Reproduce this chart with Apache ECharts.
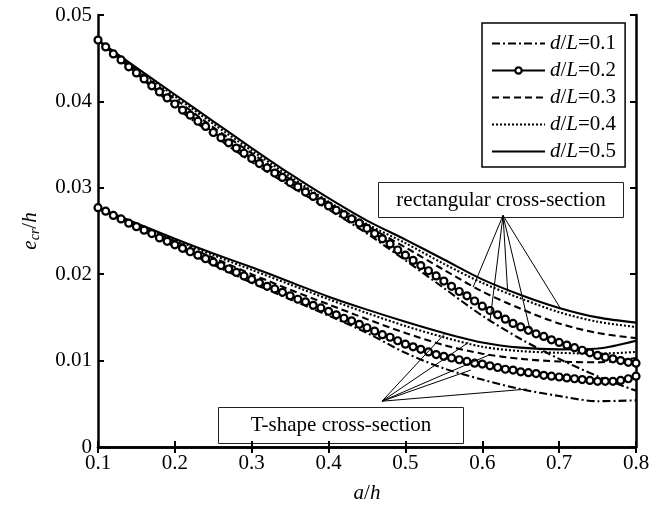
<!DOCTYPE html>
<html><head><meta charset="utf-8">
<script src="https://cdn.jsdelivr.net/npm/echarts@6/dist/echarts.min.js"></script>
<style>html,body{margin:0;padding:0;background:#fff}#c{width:663px;height:509px}</style>
</head><body><div id="c"></div>
<script>
// sampling positions (a/h)
const xCoarse = [0.10,0.15,0.20,0.25,0.30,0.35,0.40,0.45,0.50,0.55,0.60,0.65,0.70,0.75,0.80];
const xFine = [0.10,0.11,0.12,0.13,0.14,0.15,0.16,0.17,0.18,0.19,0.20,0.21,0.22,0.23,0.24,0.25,0.26,0.27,0.28,0.29,
  0.30,0.31,0.32,0.33,0.34,0.35,0.36,0.37,0.38,0.39,0.40,0.41,0.42,0.43,0.44,0.45,0.46,0.47,0.48,0.49,
  0.50,0.51,0.52,0.53,0.54,0.55,0.56,0.57,0.58,0.59,0.60,0.61,0.62,0.63,0.64,0.65,0.66,0.67,0.68,0.69,
  0.70,0.71,0.72,0.73,0.74,0.75,0.76,0.77,0.78,0.79,0.80];

// rectangular cross-section, e_cr/h
const rect01 = [0.0471,0.0432,0.0394,0.0361,0.0330,0.0302,0.0275,0.0247,0.0216,0.0184,0.0152,0.0125,0.0102,0.0082,0.0065];
const rect02 = [0.0471,0.0463,0.0455,0.0448,0.0440,0.0433,0.0426,0.0418,0.0411,0.0404,0.0397,0.0390,0.0384,0.0377,0.0371,
  0.0364,0.0358,0.0352,0.0346,0.0340,0.0334,0.0328,0.0323,0.0317,0.0312,0.0306,0.0301,0.0295,0.0290,0.0284,
  0.0279,0.0274,0.0269,0.0264,0.0259,0.0253,0.0247,0.0241,0.0235,0.0228,0.0222,0.0216,0.0210,0.0204,0.0198,
  0.0192,0.0186,0.0180,0.0175,0.0169,0.0163,0.0158,0.0153,0.0148,0.0143,0.0139,0.0135,0.0131,0.0128,0.0124,
  0.0121,0.0118,0.0115,0.0112,0.0109,0.0106,0.0104,0.0102,0.0100,0.0098,0.0097];
const rect03 = [0.0471,0.0436,0.0403,0.0370,0.0340,0.0310,0.0282,0.0256,0.0231,0.0205,0.0180,0.0160,0.0143,0.0132,0.0126];
const rect04 = [0.0471,0.0438,0.0406,0.0374,0.0343,0.0313,0.0284,0.0258,0.0236,0.0212,0.0190,0.0172,0.0156,0.0145,0.0139];
const rect05 = [0.0471,0.0439,0.0408,0.0377,0.0346,0.0316,0.0288,0.0262,0.0240,0.0217,0.0194,0.0176,0.0161,0.0150,0.0144];

// T-shape cross-section, e_cr/h
const tee01 = [0.0277,0.0254,0.0232,0.0211,0.0190,0.0171,0.0152,0.0132,0.0109,0.0091,0.0078,0.0067,0.0059,0.0053,0.0054];
const tee02 = [0.0277,0.0273,0.0268,0.0264,0.0259,0.0255,0.0251,0.0247,0.0242,0.0238,0.0234,0.0230,0.0226,0.0222,0.0218,
  0.0214,0.0210,0.0206,0.0202,0.0198,0.0194,0.0190,0.0186,0.0183,0.0179,0.0175,0.0171,0.0168,0.0164,0.0161,
  0.0157,0.0153,0.0149,0.0146,0.0142,0.0138,0.0134,0.0130,0.0127,0.0123,0.0119,0.0116,0.0113,0.0110,0.0107,
  0.0105,0.0103,0.0101,0.0099,0.0097,0.0096,0.0094,0.0092,0.0090,0.0089,0.0087,0.0086,0.0085,0.0083,0.0082,
  0.0081,0.0080,0.0079,0.0078,0.0077,0.0076,0.0076,0.0076,0.0077,0.0079,0.0082];
const tee03 = [0.0277,0.0257,0.0238,0.0219,0.0200,0.0182,0.0165,0.0148,0.0132,0.0118,0.0108,0.0102,0.0099,0.0098,0.0103];
const tee04 = [0.0277,0.0258,0.0240,0.0222,0.0205,0.0188,0.0171,0.0155,0.0140,0.0127,0.0116,0.0111,0.0109,0.0108,0.0110];
const tee05 = [0.0277,0.0259,0.0241,0.0224,0.0208,0.0191,0.0174,0.0159,0.0145,0.0132,0.0121,0.0115,0.0113,0.0114,0.0123];

const names = ['d/L=0.1','d/L=0.2','d/L=0.3','d/L=0.4','d/L=0.5'];
const xTicks = [0.1,0.2,0.3,0.4,0.5,0.6,0.7,0.8];
const yTicks = [0,0.01,0.02,0.03,0.04,0.05];

// annotation leader lines, [a/h, e_cr/h]
const rectOrigin = [0.627, 0.0268];
const rectTargets = [[0.588,0.0185],[0.610,0.0146],[0.633,0.0180],[0.662,0.0136],[0.702,0.0160]];
const teeOrigin = [0.4695, 0.0053];
const teeTargets = [[0.551,0.0131],[0.582,0.0121],[0.610,0.0107],[0.585,0.0089],[0.658,0.0067]];
const rectLabel = 'rectangular cross-section';
const teeLabel = 'T-shape cross-section';

const FONT = 'Liberation Serif, Times New Roman, serif';
const pair = (xs, ys) => xs.map((x, i) => [x, ys[i]]);
const styles = {
  'd/L=0.1': {type:[8,3,2,3]},
  'd/L=0.2': {type:'solid'},
  'd/L=0.3': {type:[7,4]},
  'd/L=0.4': {type:[2,2]},
  'd/L=0.5': {type:'solid'}
};
const circleStyle = {color:'#fff', borderColor:'#000', borderWidth:2.2};
function mk(name, data, fine) {
  const s = {
    name, type:'line', data, smooth: fine ? false : 0.3,
    lineStyle:{color:'#000', width:2.1, type: styles[name].type},
    itemStyle:{color:'#000'},
    symbol:'none', animation:false, z: fine ? 4 : 3
  };
  if (fine) {
    s.symbol = 'circle'; s.symbolSize = 7; s.showSymbol = true;
    s.itemStyle = circleStyle;
  }
  return s;
}
const leader = (o, ts) => ts.map(t => [{coord:o},{coord:t}]);

const series = [
  mk(names[0], pair(xCoarse, rect01)),
  mk(names[0], pair(xCoarse, tee01)),
  mk(names[2], pair(xCoarse, rect03)),
  mk(names[2], pair(xCoarse, tee03)),
  mk(names[3], pair(xCoarse, rect04)),
  mk(names[3], pair(xCoarse, tee04)),
  mk(names[4], pair(xCoarse, rect05)),
  mk(names[4], pair(xCoarse, tee05)),
  mk(names[1], pair(xFine, rect02), true),
  mk(names[1], pair(xFine, tee02), true)
];
series[6].markLine = {silent:true, symbol:['none','none'], label:{show:false},
  lineStyle:{color:'#000', width:1, type:'solid'}, animation:false,
  data: leader(rectOrigin, rectTargets).concat(leader(teeOrigin, teeTargets))};

const axisCommon = {
  type:'value', axisLine:{show:true, lineStyle:{color:'#000', width:2.5}},
  axisTick:{show:true, inside:true, length:6, lineStyle:{color:'#000', width:2}},
  splitLine:{show:false},
  axisLabel:{color:'#000', fontFamily:FONT, fontSize:21}
};
const hidden = {color:'rgba(0,0,0,0)', borderWidth:0, opacity:0};
const chart = echarts.init(document.getElementById('c'), null, {renderer:'canvas'});
chart.setOption({
  animation:false,
  backgroundColor:'#fff',
  grid:{left:98, right:27, top:15, bottom:56},
  xAxis:[
    Object.assign({}, axisCommon, {min:xTicks[0], max:xTicks[xTicks.length-1], interval:0.1, position:'bottom',
      axisLabel:Object.assign({}, axisCommon.axisLabel, {margin:6}),
      name:'{i|a}{n|/}{i|h}', nameLocation:'middle', nameGap:36,
      nameTextStyle:{fontFamily:FONT, fontSize:21, color:'#000',
        rich:{i:{fontFamily:FONT, fontSize:21, fontStyle:'italic', color:'#000'}, n:{fontFamily:FONT, fontSize:21, color:'#000'}}}}),
    Object.assign({}, axisCommon, {min:xTicks[0], max:xTicks[xTicks.length-1], interval:0.1, position:'top',
      axisLabel:{show:false}})
  ],
  yAxis:[
    Object.assign({}, axisCommon, {min:yTicks[0], max:yTicks[yTicks.length-1], interval:0.01, position:'left',
      axisLabel:Object.assign({}, axisCommon.axisLabel, {margin:6}),
      name:'{i|e}{s|cr}{n|/}{i|h}', nameLocation:'middle', nameGap:56, nameRotate:90,
      nameTextStyle:{fontFamily:FONT, fontSize:21, color:'#000',
        rich:{i:{fontFamily:FONT, fontSize:21, fontStyle:'italic', color:'#000'},
              s:{fontFamily:FONT, fontSize:14, fontStyle:'italic', color:'#000', padding:[10,0,0,0]},
              n:{fontFamily:FONT, fontSize:21, color:'#000'}}}}),
    Object.assign({}, axisCommon, {min:yTicks[0], max:yTicks[yTicks.length-1], interval:0.01, position:'right',
      axisLabel:{show:false}})
  ],
  legend:{
    data:[
      {name:names[0], itemStyle:hidden},
      {name:names[1], itemStyle:circleStyle},
      {name:names[2], itemStyle:hidden},
      {name:names[3], itemStyle:hidden},
      {name:names[4], itemStyle:hidden}
    ],
    orient:'vertical', left:482, top:23,
    itemWidth:53, itemHeight:8, itemGap:6,
    padding:[10,9,5,9], borderColor:'#000', borderWidth:1.5, backgroundColor:'#fff',
    formatter: n => '{i|d}/{i|L}=' + n.split('=')[1],
    textStyle:{fontFamily:FONT, fontSize:21, color:'#000',
      rich:{i:{fontFamily:FONT, fontSize:21, fontStyle:'italic', color:'#000'}}}
  },
  graphic:[
    {type:'group', left:378, top:182, children:[
      {type:'rect', shape:{x:0, y:0, width:245, height:35}, style:{fill:'#fff', stroke:'#222', lineWidth:1}},
      {type:'text', x:122.5, y:17.5, style:{text:rectLabel, font:'21px ' + FONT, fill:'#000', textAlign:'center', textVerticalAlign:'middle'}}
    ]},
    {type:'group', left:218, top:407, children:[
      {type:'rect', shape:{x:0, y:0, width:245, height:36}, style:{fill:'#fff', stroke:'#222', lineWidth:1}},
      {type:'text', x:122.5, y:18, style:{text:teeLabel, font:'21px ' + FONT, fill:'#000', textAlign:'center', textVerticalAlign:'middle'}}
    ]}
  ],
  series
});
</script></body></html>
